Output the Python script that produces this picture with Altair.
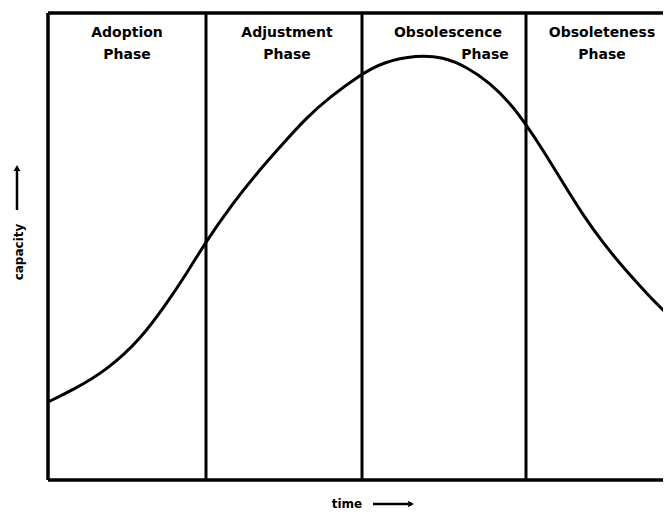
import altair as alt
import pandas as pd

# Curve (time, capacity) in plot units (1 unit = 1 px)
curve_time = [0, 25, 59, 92, 119, 139, 157, 185, 209, 232, 259, 282, 312, 335, 369, 395,
              419, 442, 462, 477, 495, 515, 535, 555, 579, 602, 622]
curve_capacity = [78, 90, 110, 140, 177, 207, 237, 277, 307, 333, 363, 383, 405, 418, 425, 423,
                  413, 397, 377, 357, 330, 297, 265, 237, 208, 183, 163]

phase_bounds = [158, 314, 478]
phase_line1 = ["Adoption", "Adjustment", "Obsolescence", "Obsoleteness"]
phase_line2 = ["Phase", "Phase", "Phase", "Phase"]
phase_x1 = [79, 239, 400, 554]
phase_x2 = [79, 239, 437, 554]

W, H = 615, 472
FONT = "DejaVu Sans"

xs = alt.Scale(domain=[0, W], nice=False, zero=False)
ys = alt.Scale(domain=[0, H], nice=False, zero=False)

curve_df = pd.DataFrame({"t": curve_time, "c": curve_capacity})
curve = alt.Chart(curve_df).mark_line(color="black", strokeWidth=3, interpolate="basis", clip=True).encode(
    x=alt.X("t:Q", scale=xs, axis=None),
    y=alt.Y("c:Q", scale=ys, axis=None),
)

bounds_df = pd.DataFrame({"b": phase_bounds})
dividers = alt.Chart(bounds_df).mark_rule(color="black", strokeWidth=3).encode(
    x=alt.X("b:Q", scale=xs, axis=None),
    y=alt.value(5), y2=alt.value(H),
)

frame_left = alt.Chart().mark_rule(color="black", strokeWidth=3.5).encode(
    x=alt.value(0), y=alt.value(5), y2=alt.value(H))
frame_top = alt.Chart().mark_rule(color="black", strokeWidth=3.5).encode(
    x=alt.value(0), x2=alt.value(W), y=alt.value(5))
frame_bottom = alt.Chart().mark_rule(color="black", strokeWidth=3.5).encode(
    x=alt.value(0), x2=alt.value(W), y=alt.value(H))

lab_df = pd.DataFrame({"l1": phase_line1, "l2": phase_line2, "x1": phase_x1, "x2": phase_x2})
lab1 = alt.Chart(lab_df).mark_text(font=FONT, fontSize=14, fontWeight="bold", color="black", align="center", baseline="middle").encode(
    x=alt.X("x1:Q", scale=xs, axis=None), y=alt.value(25), text="l1:N")
lab2 = alt.Chart(lab_df).mark_text(font=FONT, fontSize=14, fontWeight="bold", color="black", align="center", baseline="middle").encode(
    x=alt.X("x2:Q", scale=xs, axis=None), y=alt.value(47), text="l2:N")

ytitle = alt.Chart().mark_text(text="capacity", font=FONT, fontSize=12, fontWeight="bold", color="black", angle=270, align="center", baseline="middle").encode(
    x=alt.value(-29), y=alt.value(244))
yarrow = alt.Chart().mark_rule(color="black", strokeWidth=2.5).encode(
    x=alt.value(-31), y=alt.value(202), y2=alt.value(162))
yhead = alt.Chart().mark_point(shape="triangle-up", filled=True, color="black", size=45, opacity=1).encode(
    x=alt.value(-31), y=alt.value(160))

xtitle = alt.Chart().mark_text(text="time", font=FONT, fontSize=12, fontWeight="bold", color="black", align="center", baseline="middle").encode(
    x=alt.value(299), y=alt.value(496))
xarrow = alt.Chart().mark_rule(color="black", strokeWidth=2.5).encode(
    x=alt.value(325), x2=alt.value(360), y=alt.value(496))
xhead = alt.Chart().mark_point(shape="triangle-right", filled=True, color="black", size=45, opacity=1).encode(
    x=alt.value(363), y=alt.value(496))

chart = alt.layer(
    dividers, curve, frame_left, frame_top, frame_bottom,
    lab1, lab2, ytitle, yarrow, yhead, xtitle, xarrow, xhead,
).properties(
    width=W, height=H,
    autosize=alt.AutoSizeParams(type="none"),
    padding={"left": 40, "top": 0, "right": 0, "bottom": 30},
    background="white",
).configure_view(stroke=None)

chart.save("out.html", embed_options={"renderer": "svg", "actions": False})
